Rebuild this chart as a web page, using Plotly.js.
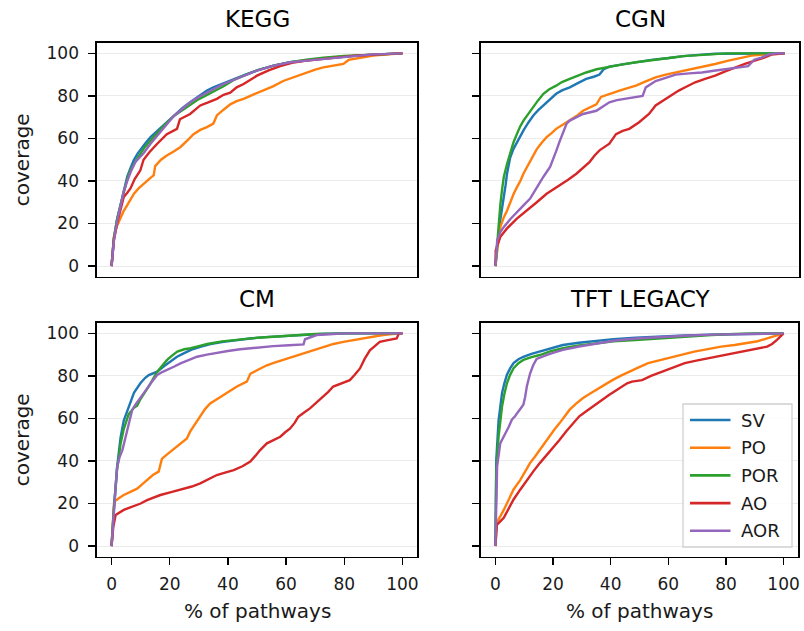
<!DOCTYPE html>
<html>
<head>
<meta charset="utf-8">
<script src="https://cdn.plot.ly/plotly-3.0.1.min.js"></script>
<style>html,body{margin:0;padding:0;background:#fff;}#chart{width:804px;height:631px;}</style>
</head>
<body>
<div id="chart"></div>
<script>
const seriesNames = ['SV', 'PO', 'POR', 'AO', 'AOR'];
const seriesColors = ['#1f77b4', '#ff7f0e', '#2ca02c', '#d62728', '#9467bd'];
const panelTitles = ['KEGG', 'CGN', 'CM', 'TFT LEGACY'];
const xAxisTitle = '% of pathways';
const yAxisTitle = 'coverage';
const yTickVals = [0, 20, 40, 60, 80, 100];
const xTickVals = [0, 20, 40, 60, 80, 100];

// ---- KEGG ----
const KEGG_SV = [[0,0],[0.8,13],[1.9,22],[3.1,29],[4.2,36],[5.4,42],[6.5,46],[7.7,50],[9,53],[10,55],[11.5,57.5],[13.4,60.6],[15.7,63.5],[18,66.5],[21.4,71],[24.5,74.5],[27,77],[30,80],[32.8,82.5],[35,84],[38.5,86],[42,88],[46,90],[50,92],[55.7,94.2],[61.4,95.8],[67,96.8],[72.8,97.6],[80,98.5],[88,99.3],[100,100]];
const KEGG_PO = [[0,0],[0.8,13.75],[1.9,19],[3.1,23],[4.2,26],[5.4,28.6],[6.5,31],[7.7,34],[9.3,36.5],[11,38.75],[13,41],[14.5,42.7],[15,47],[17,50],[19,52],[21.5,54],[23.7,56],[26,59],[28.2,62],[30.5,64],[32.8,65.3],[35,67],[36.2,70.8],[38.5,73.5],[40.8,76],[43,77.5],[45.4,78.6],[48.5,80.5],[52,82.5],[55.5,84.5],[59,87],[63,89],[67,91],[70,92.3],[72.8,93.4],[76,94.3],[79.7,95],[81.5,96.9],[85,97.8],[90,99],[95,99.6],[100,100]];
const KEGG_POR = [[0,0],[0.8,13],[1.9,22],[3.1,29],[4.2,35.5],[5.4,41],[6.5,45],[7.7,48],[9,51],[10,53],[11.5,56],[13.4,59],[15.7,62.5],[18,66],[21.4,70.5],[24.5,73.5],[27,76],[30,78.5],[32.8,80.5],[35,82],[38.5,84.5],[42,87.5],[46,89.8],[50,92],[55.7,94.2],[61.4,95.8],[67,97],[72.8,98],[80,98.8],[88,99.4],[100,100]];
const KEGG_AO = [[0,0],[0.8,12],[1.9,20],[3.1,27],[4.2,32.5],[5.4,34.5],[6.5,36.5],[8,41],[9.9,45],[11,50],[13,53.5],[15.7,57.5],[19,62],[22.5,64.5],[23.5,69],[27,71.5],[30.5,75.5],[33,76.8],[36.2,78.6],[38.5,80.5],[40.8,81.5],[43,84],[45.4,85.6],[50,89.5],[54,92],[58,94],[62,95.5],[67,96.6],[75,97.8],[84,98.9],[92,99.5],[100,100]];
const KEGG_AOR = [[0,0],[0.8,12],[1.9,21],[3.1,28.5],[4.2,35],[5.4,40],[6.5,44],[8.2,49],[9.5,51],[11,53],[13.4,57.5],[15.7,61],[18,65],[21.4,70.5],[24,73.5],[27,77],[30,79.5],[32.8,81.7],[35.5,83.5],[38.5,85.6],[42,87.5],[44,88.7],[47,90.3],[50,91.9],[55.7,94.2],[61.4,95.8],[67,96.6],[72.8,97.3],[80,98.4],[84,98.9],[90,99.5],[100,100]];

// ---- CGN ----
const CGN_SV = [[0,0],[0.3,5],[0.6,9],[1.1,16],[1.7,22],[2.3,27],[2.9,31],[3.5,38],[4,43.4],[5.1,51],[6.2,55],[7.4,58],[8.5,61],[9.7,63.75],[11.4,67.5],[13.1,70.8],[14.8,73.3],[16.6,75.5],[18.8,78.5],[21,81],[23,82.6],[25.7,84],[28.5,86],[31.4,88],[34,89],[36,90],[37.5,92.6],[39.4,93.75],[44,94.8],[48.6,95.8],[54,96.9],[60,97.8],[65,98.7],[71.4,99.4],[76,99.8],[100,100]];
const CGN_PO = [[0,0],[0.6,9],[1.1,13],[1.7,18.4],[2.9,23],[4,26],[5.1,30],[6.3,34],[7.4,37],[8.6,40],[9.7,43.5],[10.9,46.6],[12.6,51],[14.3,55],[16,58],[17.7,60.6],[19.4,62.5],[21,64.5],[23.4,66.5],[25.7,68.4],[28,70.5],[30.3,73],[32.6,74.5],[34.9,76],[36.5,79.5],[39.4,81],[42.9,82.5],[45.7,83.6],[48.6,84.8],[52,86.8],[55.4,88.75],[58.9,90],[62.3,91],[67,92.2],[71.4,93.4],[76,95],[80.6,96.6],[85,97.8],[88.6,98.9],[94,99.6],[100,100]];
const CGN_POR = [[0,0],[0.3,6],[0.6,10.6],[1.1,20],[1.7,29],[2.3,36],[2.9,42],[4,48],[5.1,53.6],[6.2,58],[7.4,62],[8.5,65.5],[9.7,68.4],[11.4,71.7],[13.1,74.7],[14.8,78],[16.6,81],[18.5,83],[21,84.8],[23,86.5],[25.7,88],[28.5,89.6],[31.4,91],[35,92.5],[39.4,93.75],[44,94.8],[48.6,95.8],[54,96.9],[60,97.8],[65,98.7],[71.4,99.4],[80,100],[100,100]];
const CGN_AO = [[0,0],[0.1,7.5],[1.7,13.75],[4,17.7],[7.4,22.3],[10.9,26],[14.3,30],[17.7,34],[22.3,38],[25,40.5],[28,43.4],[30.3,46],[32.6,49],[34.3,52],[36,54.4],[39.4,57.5],[41.7,62],[44,63.5],[46.3,64.5],[49.7,67.6],[51.5,69.5],[53.1,71.5],[55.4,75.5],[57.7,77.5],[60,79.4],[63.4,82.5],[66,84.3],[69.1,86.4],[72.5,88],[76,89.5],[79.5,91.5],[82.9,93.4],[86.3,95],[89.7,96.6],[93,98],[95.4,99.4],[100,100]];
const CGN_AOR = [[0,0],[0.3,7],[0.6,12],[1.7,16],[2.9,18.4],[5.1,22],[7.4,25.5],[9.7,28.5],[12,31.7],[14.3,37],[16.6,42],[18.9,46.6],[20,51],[21,54],[22.3,59],[23.4,63],[24.6,66.9],[25.7,68.4],[28,70],[30.3,71.5],[34.9,73],[37,75],[39.4,77],[42,78],[45.1,78.6],[48,79.3],[50.9,80],[52,84],[55.4,87],[58.9,88.5],[62.3,90],[67,90.6],[71.4,91],[75.5,91.8],[79.4,92.6],[83.5,93.3],[87.4,94],[89.5,97],[92,98],[94.3,99.4],[97,100],[100,100]];

// ---- CM ----
const CM_SV = [[0,0],[0.4,10],[0.8,17],[1.9,37],[3.1,51],[4.2,59],[5.9,65.5],[7.7,72],[9.9,76.5],[11.5,79],[12.8,80.4],[15.7,82],[18,84.5],[20.2,86.7],[22.5,89],[24.8,90.6],[27.5,92.3],[30.5,93.7],[34,95],[38.5,96],[43,96.9],[47.6,97.6],[53,98.2],[59,98.7],[66,99.3],[72,99.7],[80,100],[100,100]];
const CM_PO = [[0,0],[0.5,15],[0.9,20.8],[2.5,22.5],[4.2,24],[6.5,25.5],[8.8,27],[10.5,29],[12.2,31],[14.3,33.5],[16.2,35],[17.3,41],[19,43],[20.8,45],[22.5,46.7],[24.2,48.5],[25.9,50.6],[27,53.8],[28.8,57.5],[30.5,61.6],[32.2,64.5],[33.9,67],[36.2,69.2],[38.5,71],[40.8,73],[43.1,75],[46.5,77.3],[47.7,81],[50.5,83],[53.4,85],[56,86.2],[59,87.5],[62.5,89],[66,90.6],[69.3,92.2],[72.8,93.7],[76.3,95],[79.7,96],[83,96.8],[86.5,97.6],[90,98.4],[93.3,99.2],[96.5,99.7],[100,100]];
const CM_POR = [[0,0],[0.4,10],[0.8,18],[1.9,36],[3.1,48],[4.2,55],[5.9,62],[7.7,65],[8.8,66],[9.9,69],[11.4,72],[13,75.5],[15.7,82],[17.4,85],[19.1,87.5],[20.8,89.5],[22.6,91.4],[25,92.5],[27.2,93],[30,94],[32.9,95],[38,96.2],[44.2,97.2],[50,97.9],[55.6,98.4],[62,99],[70,99.7],[80,100],[100,100]];
const CM_AO = [[0,0],[0.3,5],[0.6,9],[1.4,14.6],[2.8,16],[4.2,17],[6,18],[7.7,18.8],[10,20],[12.2,21.6],[14.5,22.8],[16.8,24],[20.8,25.5],[24.8,27],[27.6,28],[30.5,29.5],[33.4,31.5],[36.2,33.4],[39,34.5],[42,35.7],[45,37.5],[47.7,39.7],[49.5,42.5],[51,45],[53.4,48.3],[55.7,49.8],[58,51.4],[59.7,53.5],[61.4,55.3],[63,58],[64.2,60.8],[66.2,62.8],[68.2,64.7],[70.5,67.5],[72.8,70.2],[74.5,72.5],[76.2,75],[79,76.5],[81.9,78],[83.6,80.5],[85.4,83.5],[87,88],[88.8,92],[90.5,94],[92.2,96],[95,96.8],[98,97.6],[98.8,100],[100,100]];
const CM_AOR = [[0,0],[0.8,13.8],[1.3,25],[1.9,37],[2.8,42],[3.7,45],[4.6,50],[5.4,54.5],[6.3,59],[7.1,64],[8.2,66.5],[9.4,68.6],[10.8,71.5],[12.2,74],[14,77.5],[15.7,80.4],[17.4,81.8],[19.1,82.8],[21.4,84.3],[23.7,85.9],[26.5,87.5],[29.4,89],[32.8,90],[36.2,90.9],[40,91.7],[44.2,92.5],[50,93.3],[55.6,94],[61,94.4],[66,94.8],[66.5,97.2],[68.5,98.3],[70.5,99.2],[75,99.6],[80,100],[100,100]];

// ---- TFT LEGACY ----
const TFT_SV = [[0,0],[0.3,40.6],[1.1,59],[2.3,72],[3.1,76.5],[4,80.5],[5.1,83.5],[6.3,86],[8,87.8],[9.7,89],[12.5,90.3],[15.4,91.4],[19,93],[23.4,94.5],[29,95.6],[34.9,96.5],[41,97.3],[48.6,98],[57,98.6],[65.7,99],[75,99.4],[85,99.7],[100,100]];
const TFT_PO = [[0,0],[0.5,11],[2.9,17],[4.6,22],[6.3,26.6],[8.6,31],[10.3,35],[12,39],[13.7,42],[15.4,45.3],[17.2,49],[18.9,52.3],[20.6,55],[22.3,57.8],[24,61],[25.7,64],[28,67],[30.3,69.5],[32.6,71.5],[34.9,73.4],[37.7,75.8],[40.6,78],[43.4,80],[46.3,82],[49.7,84],[53,86],[56.5,87.2],[60,88.3],[64.5,90],[69,91.4],[73.7,92.6],[78.3,93.75],[83,94.5],[87.4,95.3],[91,96.3],[94.3,97.6],[97,98.8],[100,100]];
const TFT_POR = [[0,0],[0.3,35],[1.1,51.5],[2.3,65.6],[3.1,71.5],[4,76.5],[5.1,80.5],[6.3,83.6],[8,86],[9.7,87.5],[12.5,88.8],[15.4,89.8],[19,91.5],[23.4,93],[29,94.3],[34.9,95.3],[41,96.2],[48.6,96.9],[57,97.7],[65.7,98.4],[75,99.2],[82.9,99.7],[90,100],[100,100]];
const TFT_AO = [[0,0],[0.5,10],[2.9,13.3],[4.6,17.5],[6.3,21.9],[8.6,26.5],[10.9,31],[13.1,35],[15.4,39],[17.7,42.5],[20,46],[22.3,50],[24.6,54],[26.9,57.5],[29.1,61],[31.4,63.3],[33.7,65.6],[36.5,68.5],[39.4,71],[41.7,73],[44,75],[45.7,76.5],[47.4,77.3],[50.9,78],[54,80],[57.7,82],[61.7,84],[65.7,86],[69.7,87.2],[73.7,88.3],[78.3,89.5],[82.9,90.6],[87.4,91.8],[92,93],[94.3,93.75],[96,95],[97.7,96.9],[100,100]];
const TFT_AOR = [[0,0],[0.3,25],[0.6,37.5],[1.7,48.4],[2.9,51.6],[4,54],[4.6,56],[5.7,59.4],[6.8,61],[8,63.3],[9.7,66.4],[10.3,70],[10.9,75],[12,81],[13.1,85],[14.3,88],[16,89],[17.7,89.8],[20.5,91],[23.4,92.2],[29,93.8],[34.9,95.3],[41,96.5],[48.6,97.6],[57,98.3],[65.7,98.9],[75,99.4],[85,99.7],[100,100]];

const panels = [
  [KEGG_SV, KEGG_PO, KEGG_POR, KEGG_AO, KEGG_AOR],
  [CGN_SV, CGN_PO, CGN_POR, CGN_AO, CGN_AOR],
  [CM_SV, CM_PO, CM_POR, CM_AO, CM_AOR],
  [TFT_SV, TFT_PO, TFT_POR, TFT_AO, TFT_AOR]
];

const FONT = 'DejaVu Sans, sans-serif';
const W = 804, H = 631;
// pixel boxes for the four panels [left, right, top, bottom]
const boxes = [[97, 417, 42.7, 276.7], [481, 799, 42.7, 276.7], [97, 417, 322.7, 556.7], [481, 798, 322.7, 556.7]];
// legend box in pixels [left, right, top, bottom], entry layout
const legBox = [683, 792, 404, 547];
const legFirstY = 420, legStep = 27.7, legLineX = [690, 730.5], legTextX = 739;

const traces = [];
panels.forEach((panel, p) => {
  const ax = p === 0 ? '' : String(p + 1);
  panel.forEach((pts, s) => {
    traces.push({
      type: 'scatter', mode: 'lines',
      x: pts.map(d => d[0]), y: pts.map(d => d[1]),
      name: seriesNames[s], showlegend: false,
      line: {color: seriesColors[s], width: 2.4},
      xaxis: 'x' + ax, yaxis: 'y' + ax, hoverinfo: 'skip'
    });
  });
});

const px = v => v / W, py = v => 1 - v / H;

const layout = {
  width: W, height: H,
  margin: {l: 0, r: 0, t: 0, b: 0},
  paper_bgcolor: '#fff', plot_bgcolor: '#fff',
  font: {family: FONT, color: '#000', size: 12},
  showlegend: false,
  annotations: [],
  shapes: []
};

boxes.forEach((b, p) => {
  const ax = p === 0 ? '' : String(p + 1);
  const isBottom = p >= 2, isLeft = p % 2 === 0;
  layout['xaxis' + ax] = {
    domain: [px(b[0]), px(b[1])], range: [-5, 105], anchor: 'y' + ax,
    showgrid: false, zeroline: false, showline: true, mirror: true,
    linecolor: '#000', linewidth: 1.6,
    ticks: isBottom ? 'outside' : '', ticklen: 7, tickwidth: 1.4, tickcolor: '#000',
    tickvals: xTickVals, showticklabels: isBottom, ticklabelstandoff: 4,
    tickfont: {family: FONT, size: 17, color: '#1a1a1a'}
  };
  layout['yaxis' + ax] = {
    domain: [py(b[3]), py(b[2])], range: [-5, 105], anchor: 'x' + ax,
    showgrid: true, gridcolor: '#ebebeb', gridwidth: 1, zeroline: false,
    showline: true, mirror: true, linecolor: '#000', linewidth: 1.6,
    ticks: 'outside', ticklen: 7, tickwidth: 1.4, tickcolor: '#000',
    tickvals: yTickVals, showticklabels: isLeft, ticklabelstandoff: 6,
    tickfont: {family: FONT, size: 17, color: '#1a1a1a'}
  };
  layout.annotations.push({
    text: panelTitles[p], xref: 'paper', yref: 'paper',
    x: px((b[0] + b[1]) / 2), y: py(b[2] - 24),
    xanchor: 'center', yanchor: 'middle', showarrow: false,
    font: {family: FONT, size: 23, color: '#000'}
  });
  if (isLeft) {
    layout.annotations.push({
      text: yAxisTitle, xref: 'paper', yref: 'paper',
      x: px(21.5), y: py((b[2] + b[3]) / 2), textangle: -90,
      xanchor: 'center', yanchor: 'middle', showarrow: false,
      font: {family: FONT, size: 20, color: '#1a1a1a'}
    });
  }
  if (isBottom) {
    layout.annotations.push({
      text: xAxisTitle, xref: 'paper', yref: 'paper',
      x: px((b[0] + b[1]) / 2), y: py(611),
      xanchor: 'center', yanchor: 'middle', showarrow: false,
      font: {family: FONT, size: 20, color: '#1a1a1a'}
    });
  }
});

// legend (drawn as shapes + text so the sample lines match the reference length)
layout.shapes.push({
  type: 'rect', xref: 'paper', yref: 'paper', layer: 'above',
  x0: px(legBox[0]), x1: px(legBox[1]), y0: py(legBox[3]), y1: py(legBox[2]),
  line: {color: '#d0d0d0', width: 1.3}, fillcolor: 'rgba(255,255,255,0.85)'
});
seriesNames.forEach((name, s) => {
  const yc = legFirstY + s * legStep;
  layout.shapes.push({
    type: 'line', xref: 'paper', yref: 'paper', layer: 'above',
    x0: px(legLineX[0]), x1: px(legLineX[1]), y0: py(yc), y1: py(yc),
    line: {color: seriesColors[s], width: 2.6}
  });
  layout.annotations.push({
    text: name, xref: 'paper', yref: 'paper',
    x: px(legTextX), y: py(yc), xanchor: 'left', yanchor: 'middle',
    showarrow: false, font: {family: FONT, size: 18, color: '#1a1a1a'}
  });
});

Plotly.newPlot('chart', traces, layout, {staticPlot: true, displayModeBar: false});
</script>
</body>
</html>
